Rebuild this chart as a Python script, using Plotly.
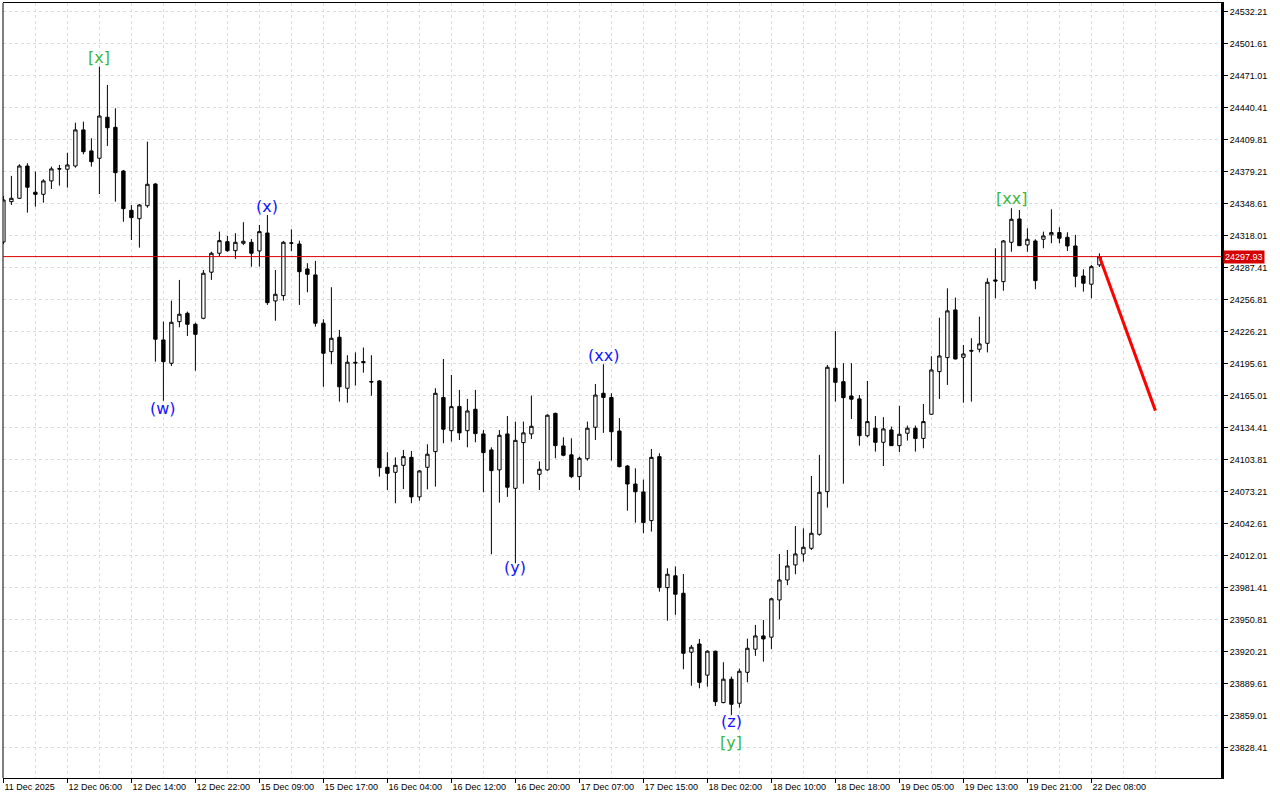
import plotly.graph_objects as go

# ---------------- data (hourly bars) ----------------
opens = [24311.9, 24350.5, 24353.7, 24384.6, 24359.5, 24357.5, 24370.3, 24381.6, 24381.5, 24384.6,
         24419.1, 24399.0, 24392.0, 24431.2, 24421.6, 24379.8, 24342.2, 24334.2, 24346.6, 24367.4,
         24218.2, 24195.9, 24235.7, 24243.7, 24233.2, 24238.9, 24283.0, 24301.1, 24312.2, 24303.6,
         24310.7, 24311.6, 24303.3, 24320.5, 24255.5, 24260.6, 24310.7, 24310.0, 24286.1, 24280.4,
         24234.2, 24207.0, 24220.8, 24172.0, 24196.8, 24197.5, 24178.5, 24179.0, 24096.4, 24091.6,
         24098.3, 24105.9, 24068.1, 24096.4, 24111.4, 24163.2, 24131.4, 24154.6, 24131.4, 24151.9,
         24128.3, 24113.0, 24093.9, 24128.3, 24076.3, 24120.0, 24128.3, 24089.7, 24093.9, 24148.0,
         24116.8, 24108.3, 24087.5, 24104.6, 24134.7, 24167.2, 24163.2, 24131.1, 24097.6, 24080.4,
         24072.8, 24045.4, 24106.6, 23981.3, 23992.6, 23975.9, 23919.5, 23927.4, 23897.6, 23920.5,
         23871.3, 23893.7, 23870.7, 23900.3, 23922.4, 23935.1, 23933.9, 23969.5, 23988.6, 24003.0,
         24013.5, 24018.9, 24032.3, 24073.1, 24191.1, 24178.3, 24164.6, 24161.8, 24126.6, 24133.8,
         24120.3, 24132.1, 24117.1, 24129.0, 24133.8, 24124.0, 24147.1, 24187.9, 24201.3, 24246.9,
         24201.6, 24208.2, 24209.3, 24215.0, 24275.6, 24274.0, 24311.6, 24333.9, 24309.1, 24312.9,
         24314.5, 24318.7, 24320.9, 24316.4, 24308.1, 24279.4, 24271.5, 24290.0]
highs = [24355.9, 24375.1, 24386.3, 24387.2, 24379.2, 24371.9, 24384.0, 24385.6, 24397.3, 24426.0,
         24427.0, 24411.1, 24479.6, 24462.1, 24439.8, 24380.8, 24347.3, 24348.3, 24407.9, 24368.1,
         24235.7, 24255.8, 24275.6, 24245.3, 24234.7, 24285.1, 24302.6, 24321.8, 24317.7, 24320.3,
         24330.8, 24314.8, 24328.2, 24337.7, 24285.1, 24312.9, 24324.0, 24313.2, 24291.6, 24293.8,
         24238.0, 24268.6, 24227.8, 24203.6, 24206.3, 24210.9, 24203.6, 24179.9, 24110.8, 24105.9,
         24113.0, 24112.0, 24093.9, 24118.4, 24172.0, 24200.0, 24184.7, 24170.4, 24161.8, 24170.4,
         24132.1, 24115.5, 24132.1, 24145.5, 24140.1, 24140.1, 24164.9, 24102.0, 24147.0, 24148.6,
         24125.1, 24124.1, 24106.6, 24140.1, 24176.1, 24195.0, 24167.2, 24143.5, 24098.6, 24095.4,
         24084.6, 24113.9, 24109.8, 23999.8, 24001.6, 23994.3, 23926.5, 23932.2, 23921.4, 23921.0,
         23909.9, 23896.3, 23903.9, 23932.5, 23945.6, 23950.4, 23971.6, 24013.5, 24017.3, 24040.2,
         24038.0, 24088.1, 24108.3, 24194.3, 24226.8, 24196.0, 24196.0, 24165.5, 24179.0, 24145.5,
         24144.3, 24135.3, 24155.1, 24136.3, 24136.3, 24157.0, 24202.6, 24239.5, 24267.6, 24258.7,
         24213.4, 24219.8, 24240.5, 24277.2, 24305.9, 24313.8, 24344.2, 24342.5, 24325.0, 24314.5,
         24321.8, 24343.2, 24326.0, 24321.2, 24318.7, 24285.8, 24289.9, 24301.0]
lows = [24310.0, 24347.3, 24353.1, 24340.0, 24345.7, 24349.5, 24362.6, 24365.8, 24363.9, 24383.0,
        24395.8, 24384.0, 24357.8, 24403.8, 24350.5, 24331.3, 24313.8, 24306.5, 24344.7, 24197.4,
        24160.1, 24193.3, 24230.3, 24222.0, 24188.8, 24238.0, 24275.6, 24298.5, 24302.4, 24295.7,
        24309.1, 24288.3, 24288.3, 24251.7, 24236.6, 24255.8, 24303.3, 24251.7, 24263.8, 24230.9,
        24173.4, 24195.0, 24159.2, 24158.2, 24174.5, 24186.9, 24164.9, 24087.5, 24074.7, 24062.0,
        24075.6, 24062.0, 24064.5, 24075.3, 24077.9, 24119.4, 24120.9, 24122.5, 24115.5, 24120.3,
        24072.5, 24013.2, 24062.6, 24068.1, 24004.6, 24080.7, 24123.5, 24074.7, 24093.0, 24105.0,
        24106.9, 24086.0, 24074.7, 24102.8, 24122.5, 24129.3, 24102.8, 24096.4, 24054.9, 24043.5,
        24033.4, 24034.9, 23977.4, 23949.7, 23955.3, 23903.2, 23887.5, 23885.0, 23886.6, 23868.1,
        23870.7, 23859.5, 23866.5, 23890.7, 23916.0, 23910.5, 23922.4, 23951.0, 23983.7, 23994.1,
        24006.1, 24017.3, 24031.0, 24057.8, 24159.2, 24080.7, 24142.6, 24117.1, 24125.1, 24111.4,
        24097.6, 24116.8, 24110.8, 24121.9, 24111.4, 24114.6, 24146.4, 24161.8, 24175.2, 24199.5,
        24158.2, 24159.2, 24206.3, 24206.3, 24258.1, 24265.3, 24302.6, 24308.0, 24302.6, 24266.7,
        24305.9, 24310.7, 24310.7, 24303.3, 24268.6, 24264.4, 24258.1, 24288.0]
closes = [24352.1, 24353.7, 24384.6, 24364.3, 24357.5, 24370.3, 24381.8, 24382.0, 24385.6, 24419.1,
          24398.3, 24388.7, 24432.4, 24421.2, 24378.2, 24343.8, 24335.2, 24347.3, 24367.1, 24218.9,
          24197.4, 24235.1, 24242.8, 24233.2, 24223.6, 24282.0, 24301.1, 24313.2, 24303.6, 24311.6,
          24312.6, 24301.1, 24321.8, 24253.9, 24261.9, 24311.6, 24311.0, 24283.5, 24281.0, 24234.2,
          24205.5, 24219.8, 24173.4, 24196.9, 24196.2, 24196.5, 24178.0, 24096.0, 24090.6, 24098.3,
          24106.6, 24068.1, 24092.9, 24108.9, 24167.2, 24132.8, 24154.4, 24129.3, 24150.3, 24128.6,
          24110.4, 24093.2, 24127.0, 24077.3, 24122.2, 24129.3, 24135.6, 24094.5, 24146.2, 24117.1,
          24107.9, 24087.5, 24105.0, 24133.8, 24165.5, 24163.2, 24130.4, 24097.0, 24080.4, 24073.0,
          24043.5, 24105.9, 23981.3, 23994.1, 23975.0, 23918.5, 23924.3, 23890.7, 23920.5, 23872.2,
          23893.7, 23869.7, 23901.3, 23923.3, 23935.1, 23932.2, 23970.6, 23988.6, 24002.0, 24013.5,
          24019.9, 24033.3, 24072.5, 24192.1, 24177.7, 24163.0, 24161.5, 24126.6, 24140.1, 24120.3,
          24133.1, 24117.1, 24128.0, 24133.8, 24124.0, 24140.1, 24189.5, 24202.9, 24246.0, 24200.0,
          24204.8, 24207.6, 24214.4, 24273.4, 24274.6, 24312.9, 24333.6, 24308.4, 24314.5, 24274.9,
          24317.7, 24320.9, 24315.5, 24308.1, 24279.1, 24272.5, 24288.3, 24297.93]
bar_index = list(range(len(opens)))

x_tick_labels = ["11 Dec 2025", "12 Dec 06:00", "12 Dec 14:00", "12 Dec 22:00", "15 Dec 09:00",
                 "15 Dec 17:00", "16 Dec 04:00", "16 Dec 12:00", "16 Dec 20:00", "17 Dec 07:00",
                 "17 Dec 15:00", "18 Dec 02:00", "18 Dec 10:00", "18 Dec 18:00", "19 Dec 05:00",
                 "19 Dec 13:00", "19 Dec 21:00", "22 Dec 08:00"]
bars_per_label = 8
y_tick_values = [24532.21, 24501.61, 24471.01, 24440.41, 24409.81, 24379.21, 24348.61, 24318.01,
                 24287.41, 24256.81, 24226.21, 24195.61, 24165.01, 24134.41, 24103.81, 24073.21,
                 24042.61, 24012.01, 23981.41, 23950.81, 23920.21, 23889.61, 23859.01, 23828.41]
current_price = 24297.93
forecast_bars = [137, 144]
forecast_prices = [24297.93, 24150.6]

GREEN = "#3cb83c"
BLUE = "#1414ff"
wave_texts = ["[x]", "(w)", "(x)", "(y)", "(xx)", "(z)", "[y]", "[xx]"]
wave_bars = [12, 20, 33, 64, 75, 91, 91, 126]
wave_prices = [24487.9, 24152.2, 24345.4, 24000.1, 24202.9, 23852.8, 23832.7, 24353.1]
wave_colors = [GREEN, BLUE, BLUE, BLUE, BLUE, BLUE, GREEN, GREEN]

# ---------------- figure ----------------
x_tick_vals = [i * bars_per_label for i in range(len(x_tick_labels))]
x_minor_vals = [v + bars_per_label // 2 for v in x_tick_vals] + [x_tick_vals[-1] + bars_per_label]

fig = go.Figure()
fig.add_trace(go.Candlestick(
    x=bar_index, open=opens, high=highs, low=lows, close=closes,
    increasing=dict(line=dict(color="black", width=1), fillcolor="white"),
    decreasing=dict(line=dict(color="black", width=1), fillcolor="black"),
    whiskerwidth=0, hoverinfo="skip", showlegend=False,
))
fig.add_trace(go.Scatter(
    x=forecast_bars, y=forecast_prices, mode="lines",
    line=dict(color="#ff0000", width=3), hoverinfo="skip", showlegend=False,
))

grid = dict(gridcolor="#dcdcdc", gridwidth=1, griddash="3px,3px")
axis_font = dict(family="Liberation Sans, Arial, sans-serif", size=9, color="black")

fig.update_layout(
    width=1280, height=800,
    margin=dict(l=3, r=59, t=3, b=22),
    paper_bgcolor="white", plot_bgcolor="white",
    boxgap=0.4,
    xaxis=dict(
        range=[-0.05, 152.2], rangeslider=dict(visible=False),
        tickmode="array", tickvals=x_tick_vals, ticktext=x_tick_labels,
        ticks="outside", ticklen=4, tickcolor="black", tickwidth=1,
        ticklabelposition="outside right", tickfont=axis_font,
        showgrid=True, **grid,
        minor=dict(tickmode="array", tickvals=x_minor_vals, showgrid=True, ticks="", **grid),
        showline=True, linecolor="black", linewidth=1, mirror=True, zeroline=False,
        fixedrange=True,
    ),
    yaxis=dict(
        side="right", range=[23799.2, 24540.5],
        tickmode="array", tickvals=y_tick_values, ticktext=[f"{v:.2f}" for v in y_tick_values],
        ticks="outside", ticklen=4, tickcolor="black", tickwidth=1, tickfont=axis_font,
        showgrid=True, **grid,
        showline=True, linecolor="black", linewidth=3, zeroline=False,
        fixedrange=True,
    ),
)

# left border
fig.add_shape(type="line", xref="paper", yref="paper", x0=0, x1=0, y0=0, y1=1,
              line=dict(color="black", width=1))
# current price line
fig.add_shape(type="line", xref="paper", yref="y", x0=0, x1=1, y0=current_price, y1=current_price,
              line=dict(color="#dd0000", width=1))
fig.add_annotation(xref="paper", yref="y", x=1, y=current_price, xanchor="left", yanchor="middle",
                   xshift=2, text=f"{current_price:.2f}", showarrow=False, bgcolor="#d40000",
                   borderpad=1, font=dict(family="Liberation Sans, Arial, sans-serif", size=9, color="white"))

for t, b, p, c in zip(wave_texts, wave_bars, wave_prices, wave_colors):
    fig.add_annotation(x=b, y=p, text=t, showarrow=False, xanchor="center", yanchor="middle",
                       font=dict(family="DejaVu Sans, sans-serif", size=16, color=c))

fig.write_html("out.html", config={"displayModeBar": False},
               post_script="document.body.style.margin='0';document.body.style.padding='0';")
